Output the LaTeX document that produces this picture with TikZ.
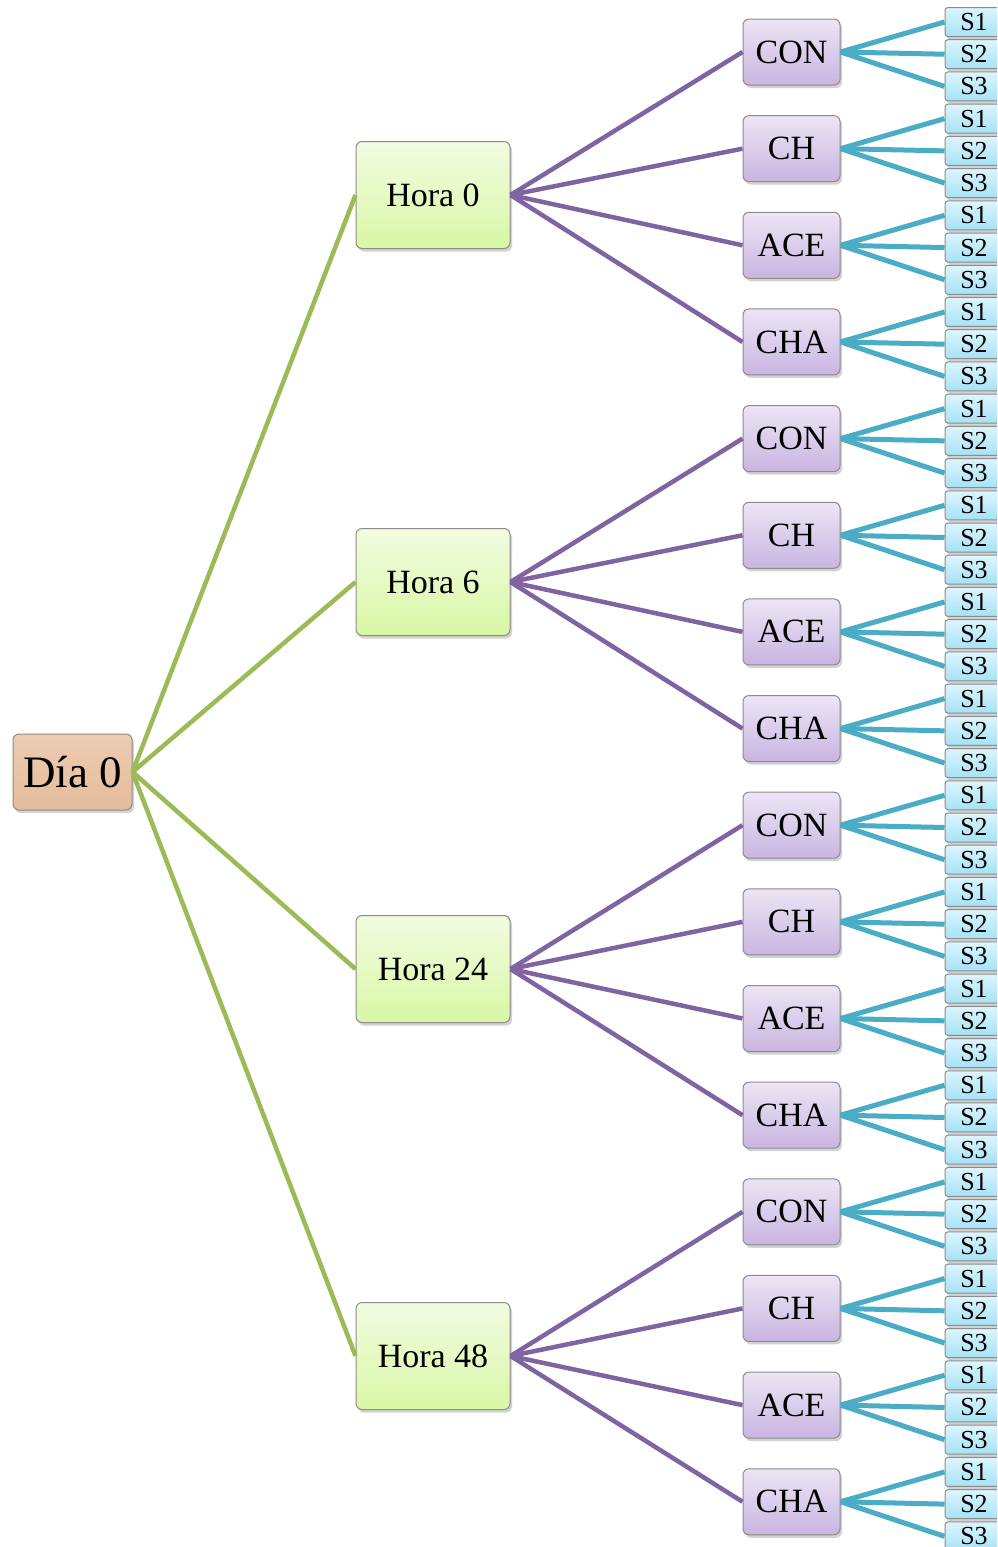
\documentclass[tikz,border=0pt]{standalone}
\usepackage{fontspec}
\setmainfont{Liberation Serif}
\usetikzlibrary{shadows}
\definecolor{gline}{HTML}{9BBB59}
\definecolor{pline}{HTML}{8064A2}
\definecolor{cline}{HTML}{4BACC6}
\definecolor{bordgray}{HTML}{8C8C8C}
\definecolor{rootA}{HTML}{EDCCB2}\definecolor{rootB}{HTML}{E4BC9C}
\definecolor{horaA}{HTML}{F2FBE0}\definecolor{horaB}{HTML}{D8F8A6}
\definecolor{midA}{HTML}{ECE5F5}\definecolor{midB}{HTML}{C9B5E1}
\definecolor{leafA}{HTML}{DDF5FD}\definecolor{leafB}{HTML}{A6E2F5}
\tikzset{
  box/.style={draw=bordgray, line width=1pt, rounded corners=6pt, inner sep=0pt,
    drop shadow={opacity=0.35, shadow xshift=2pt, shadow yshift=-3pt}},
  rootbox/.style={box, top color=rootA, bottom color=rootB,
    minimum width=119pt, minimum height=76pt, font=\fontsize{45}{48}\selectfont},
  horabox/.style={box, top color=horaA, bottom color=horaB,
    minimum width=154pt, minimum height=107pt, font=\fontsize{34}{38}\selectfont},
  midbox/.style={box, top color=midA, bottom color=midB,
    minimum width=97pt, minimum height=66pt, font=\fontsize{34}{38}\selectfont},
  leafbox/.style={box, rounded corners=3pt, top color=leafA, bottom color=leafB,
    minimum width=58pt, minimum height=29pt, font=\fontsize{26}{28}\selectfont},
  gedge/.style={gline, line width=4.5pt},
  pedge/.style={pline, line width=4.5pt},
  cedge/.style={cline, line width=5pt},
}
\begin{document}
\begin{tikzpicture}[x=1pt,y=-1pt]
\clip (0,0) rectangle (997,1547);
\fill[white] (0,0) rectangle (997,1547);
\node[rootbox] (root) at (72.5,772) {Día 0};
\foreach \h/\lab in {0/Hora 0,1/Hora 6,2/Hora 24,3/Hora 48}{
  \pgfmathsetmacro{\hy}{195+387*\h}
  \node[horabox] (h\h) at (433,\hy) {\lab};
  \draw[gedge] (root.east) -- (h\h.west);
  \foreach \m/\mlab in {0/CON,1/CH,2/ACE,3/CHA}{
    \pgfmathsetmacro{\my}{52+96.65*(4*\h+\m)}
    \node[midbox] (m\h\m) at (791.5,\my) {\mlab};
    \draw[pedge] (h\h.east) -- (m\h\m.west);
    \foreach \k in {0,1,2}{
      \pgfmathsetmacro{\sy}{22+32.22*(12*\h+3*\m+\k)}
      \pgfmathtruncatemacro{\kk}{\k+1}
      \node[leafbox] (s\h\m\k) at (974,\sy) {S\kk};
      \draw[cedge] (m\h\m.east) -- (s\h\m\k.west);
    }
  }
}
\end{tikzpicture}
\end{document}
